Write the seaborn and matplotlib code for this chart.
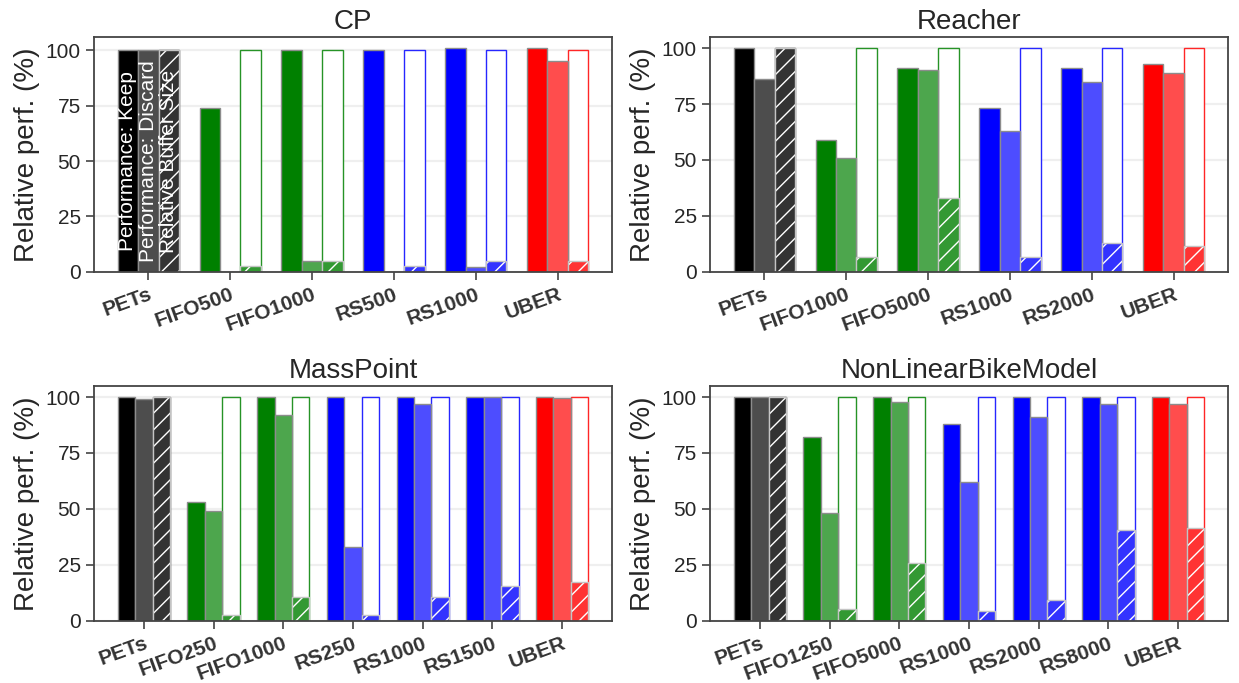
import numpy as np
import pandas as pd
import matplotlib
matplotlib.use("Agg")
import matplotlib.pyplot as plt
import seaborn as sns
from matplotlib.colors import to_rgba

# ---------------- data ----------------
cp_methods = ["PETs", "FIFO500", "FIFO1000", "RS500", "RS1000", "UBER"]
cp_keep = [100, 74, 100, 100, 101, 101]
cp_discard = [100, 0, 5, 0, 2, 95]
cp_buffer = [100, 2.5, 5, 2.5, 5, 5]

reacher_methods = ["PETs", "FIFO1000", "FIFO5000", "RS1000", "RS2000", "UBER"]
reacher_keep = [100, 59, 91, 73, 91, 93]
reacher_discard = [86, 51, 90, 63, 85, 89]
reacher_buffer = [100, 6.5, 33, 6.5, 13, 11.5]

mp_methods = ["PETs", "FIFO250", "FIFO1000", "RS250", "RS1000", "RS1500", "UBER"]
mp_keep = [100, 53, 100, 100, 100, 100, 100]
mp_discard = [99, 49, 92, 33, 97, 100, 99.5]
mp_buffer = [100, 2.5, 10.5, 2.5, 10.5, 15.5, 17.5]

nlb_methods = ["PETs", "FIFO1250", "FIFO5000", "RS1000", "RS2000", "RS8000", "UBER"]
nlb_keep = [100, 82, 100, 88, 100, 100, 100]
nlb_discard = [100, 48, 98, 62, 91, 97, 97]
nlb_buffer = [100, 5.5, 26, 4.5, 9.5, 40.5, 41.5]

full_buffer = 100
series = ["Performance: Keep", "Performance: Discard", "Relative Buffer Size"]
family_colors = {"PETs": "black", "FIFO": "green", "RS": "blue", "UBER": "red"}

panels = [
    ("CP", cp_methods, cp_keep, cp_discard, cp_buffer),
    ("Reacher", reacher_methods, reacher_keep, reacher_discard, reacher_buffer),
    ("MassPoint", mp_methods, mp_keep, mp_discard, mp_buffer),
    ("NonLinearBikeModel", nlb_methods, nlb_keep, nlb_discard, nlb_buffer),
]

# ---------------- style ----------------
sns.set_theme(style="ticks", rc={
    "axes.grid": True,
    "grid.color": "#efefef",
    "grid.linewidth": 1.6,
    "axes.edgecolor": "#444444",
    "axes.linewidth": 1.3,
    "xtick.color": "#444444",
    "ytick.color": "#444444",
    "xtick.major.size": 6,
    "ytick.major.size": 6,
    "xtick.major.width": 1.2,
    "ytick.major.width": 1.2,
    "axes.axisbelow": True,
    "hatch.linewidth": 1.0,
})
plt.rcParams["font.family"] = ["Liberation Sans", "DejaVu Sans"]
text_color = "#262626"


def family(m):
    for k in family_colors:
        if m.startswith(k):
            return family_colors[k]
    return "black"


def lighten(c, a):
    r, g, b, _ = to_rgba(c)
    return (1 - a + a * r, 1 - a + a * g, 1 - a + a * b, 1)


fig, axes = plt.subplots(2, 2, figsize=(12.39, 6.83), dpi=100)
fig.subplots_adjust(left=0.076, right=0.991, top=0.946, bottom=0.091,
                    wspace=0.19, hspace=0.485)

for ax, (title, methods, keep, discard, buf) in zip(axes.flat, panels):
    df = pd.DataFrame({
        "method": methods * 3,
        "series": [series[0]] * len(methods) + [series[1]] * len(methods) + [series[2]] * len(methods),
        "value": list(keep) + list(discard) + list(buf),
    })
    sns.barplot(data=df, x="method", y="value", hue="series", order=methods,
                hue_order=series, width=0.75, dodge=True, errorbar=None,
                saturation=1, legend=False, ax=ax)
    c_keep, c_disc, c_buf = ax.containers[0], ax.containers[1], ax.containers[2]
    for i, m in enumerate(methods):
        col = family(m)
        p = c_keep[i]
        p.set_facecolor(col); p.set_edgecolor("#8c8c8c"); p.set_linewidth(1.0); p.set_zorder(2)
        p = c_disc[i]
        p.set_facecolor(lighten(col, 0.7)); p.set_edgecolor("#8c8c8c"); p.set_linewidth(1.0); p.set_zorder(2)
        p = c_buf[i]
        # full-buffer outline behind
        ax.bar(p.get_x(), full_buffer, width=p.get_width(), align="edge",
               facecolor="white", edgecolor=lighten(col, 0.85), linewidth=1.0, zorder=1.5)
        p.set_facecolor(lighten(col, 0.8)); p.set_edgecolor("white"); p.set_linewidth(0)
        p.set_hatch("//"); p.set_zorder(2)
        ax.bar(p.get_x(), p.get_height(), width=p.get_width(), align="edge",
               fill=False, edgecolor="#c4c4c4", linewidth=1.0, zorder=2.2)

    if title == "CP":
        for k, cont in enumerate([c_keep, c_disc, c_buf]):
            p = cont[0]
            ax.text(p.get_x() + p.get_width() / 2, 50, series[k], rotation=90,
                    ha="center", va="center", color="white", fontsize=15, zorder=5)

    ax.set_title(title, fontsize=20, color=text_color)
    ax.set_xlabel("")
    ax.set_ylabel("Relative perf. (%)", fontsize=20, color=text_color)
    ax.set_yticks([0, 25, 50, 75, 100])
    ax.tick_params(axis="y", labelsize=15, labelcolor=text_color)
    ax.tick_params(axis="x", labelsize=15, labelcolor="#333333")
    for lab in ax.get_xticklabels():
        lab.set_fontweight("bold")
        lab.set_rotation(20)
        lab.set_ha("right")
        lab.set_rotation_mode("anchor")
    for s in ax.spines.values():
        s.set_visible(True)
    ax.autoscale(enable=True, axis="both")
    ax.margins(x=0.05, y=0.05)
    ax.set_ylim(0, None)

fig.savefig("out.png", dpi=100)
